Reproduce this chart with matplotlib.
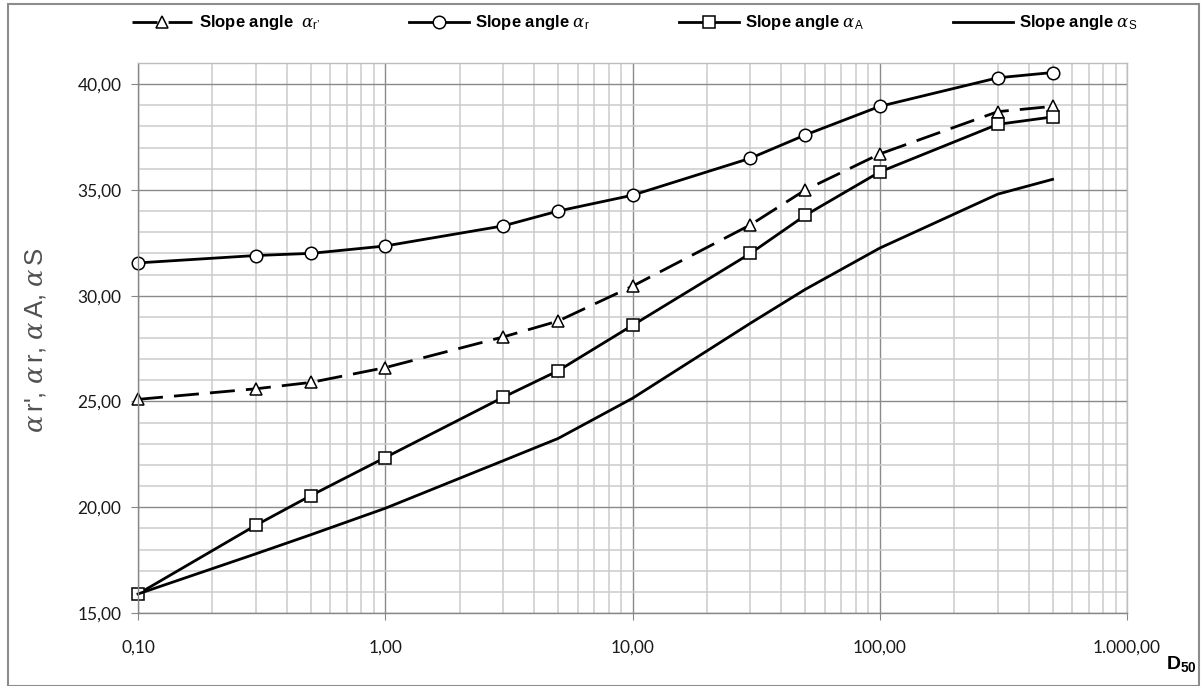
import matplotlib
matplotlib.use("Agg")
import matplotlib.pyplot as plt
from matplotlib.ticker import FixedLocator, LogLocator, MultipleLocator, FuncFormatter, NullFormatter
from matplotlib.patches import Rectangle

# Grain size D50 and slope angles
d50 = [0.1, 0.3, 0.5, 1, 3, 5, 10, 30, 50, 100, 300, 500]
alpha_r_prime = [25.1, 25.6, 25.9, 26.6, 28.05, 28.8, 30.45, 33.35, 35.0, 36.7, 38.7, 38.95]
alpha_r = [31.55, 31.9, 32.0, 32.35, 33.3, 34.0, 34.75, 36.5, 37.6, 38.95, 40.3, 40.55]
alpha_A = [15.9, 19.15, 20.55, 22.35, 25.2, 26.45, 28.6, 32.0, 33.8, 35.85, 38.1, 38.45]
alpha_S = [15.9, 17.8, 18.7, 19.95, 22.2, 23.25, 25.15, 28.7, 30.3, 32.25, 34.8, 35.5]

x_ticks = [0.1, 1, 10, 100, 1000]
y_ticks = [15, 20, 25, 30, 35, 40]

legend_labels = [
    "Slope angle  $\\alpha_{\\mathrm{r\u2019}}$",
    "Slope angle $\\alpha_{\\mathrm{r}}$",
    "Slope angle $\\alpha_{\\mathrm{A}}$",
    "Slope angle $\\alpha_{\\mathrm{S}}$",
]

plt.rcParams["mathtext.fontset"] = "custom"
plt.rcParams["mathtext.rm"] = "Liberation Sans"
plt.rcParams["mathtext.it"] = "DejaVu Serif:italic"
plt.rcParams["mathtext.bf"] = "Liberation Sans:bold"
plt.rcParams["mathtext.sf"] = "Liberation Sans"

W, H = 1202, 686
fig = plt.figure(figsize=(W / 100, H / 100), dpi=100)

# outer chart frame
fig.patches.append(Rectangle((8 / W, 0), (1199 - 8) / W, (686 - 4) / H,
                             transform=fig.transFigure, fill=False,
                             edgecolor="#8c8c8c", lw=1.5))

left, right, top, bottom = 138, 1127, 63, 613
ax = fig.add_axes([left / W, 1 - bottom / H, (right - left) / W, (bottom - top) / H])

ax.set_xscale("log")
ax.set_xlim(0.1, 1000)
ax.set_ylim(15, 41)

def de_fmt(v, pos=None):
    s = f"{v:,.2f}"
    return s.replace(",", "X").replace(".", ",").replace("X", ".")

ax.xaxis.set_major_locator(FixedLocator(x_ticks))
ax.xaxis.set_minor_locator(LogLocator(base=10, subs=range(2, 10), numticks=20))
ax.xaxis.set_major_formatter(FuncFormatter(de_fmt))
ax.xaxis.set_minor_formatter(NullFormatter())
ax.yaxis.set_major_locator(FixedLocator(y_ticks))
ax.yaxis.set_minor_locator(MultipleLocator(1))
ax.yaxis.set_major_formatter(FuncFormatter(de_fmt))

ax.grid(which="minor", color="#cccccc", lw=1.1)
ax.grid(which="major", color="#8a8a8a", lw=1.0)
ax.set_axisbelow(True)

for s in ("left", "bottom"):
    ax.spines[s].set_color("#878787")
    ax.spines[s].set_linewidth(1.0)
for s in ("top", "right"):
    ax.spines[s].set_color("#bdbdbd")
    ax.spines[s].set_linewidth(1.0)

ax.tick_params(which="major", direction="out", length=5, color="#878787",
               labelsize=12.5, labelcolor="#1a1a1a")
ax.tick_params(which="minor", length=0)
ax.tick_params(axis="x", which="major", pad=14)
ax.tick_params(axis="y", which="major", pad=7)
for lab in ax.get_xticklabels() + ax.get_yticklabels():
    lab.set_fontfamily("Lato")

lw = 2.0
mk = dict(markersize=9, markerfacecolor="white", markeredgecolor="black", markeredgewidth=1.1)

l1, = ax.plot(d50, alpha_r_prime, color="black", lw=lw, marker="^", dashes=(9, 4), **mk)
l2, = ax.plot(d50, alpha_r, color="black", lw=lw, marker="o", **mk)
l3, = ax.plot(d50, alpha_A, color="black", lw=lw, marker="s", **mk)
l4, = ax.plot(d50, alpha_S, color="black", lw=lw)
for ln in (l1, l2, l3, l4):
    ln.set_clip_on(False)

leg = fig.legend([l1, l2, l3, l4], legend_labels, loc="center left",
                 bbox_to_anchor=(124 / W, 1 - 23 / H), ncol=4, frameon=False,
                 borderpad=0, handlelength=3.6, handletextpad=0.4, columnspacing=5.3,
                 prop={"family": "Liberation Sans", "weight": "bold", "size": 12})

fig.text(36 / W, 1 - 340 / H,
         "$\\alpha\\,$r', $\\alpha\\,$r, $\\alpha\\,$A, $\\alpha\\,$S",
         rotation=90, ha="center", va="center", fontsize=18.5, color="#505050",
         family="Liberation Sans")

fig.text(1181 / W, 1 - 664 / H, "$\\mathbf{D_{50}}$", ha="center", va="center",
         fontsize=14)

fig.savefig("out.png", dpi=100)
